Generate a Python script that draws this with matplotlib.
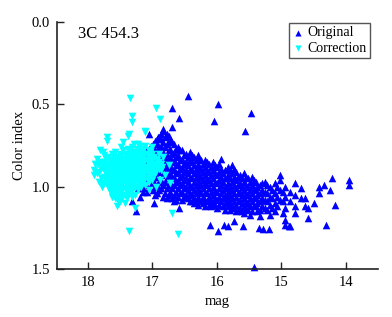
import matplotlib
matplotlib.use('Agg')
import matplotlib.pyplot as plt

# ---- Original (blue, up triangles): columns of magnitude with colour-index values
orig_col_mag = [17.22, 17.15, 17.08, 17.02, 16.96, 16.90, 16.84, 16.78, 16.72, 16.66,
                16.60, 16.54, 16.48, 16.42, 16.36, 16.30, 16.24, 16.18, 16.12, 16.06,
                16.00, 15.94, 15.88, 15.82, 15.76, 15.70, 15.64, 15.58, 15.52, 15.46,
                15.40, 15.33, 15.26, 15.18, 15.10, 15.02, 14.94, 14.86, 14.78, 14.70,
                14.64, 14.58, 14.50, 14.42, 14.34, 14.30, 14.25, 14.22, 14.16, 13.95]
orig_col_ci = [
    [0.86, 0.93, 0.99],
    [0.82, 0.88, 0.95, 1.01],
    [0.78, 0.84, 0.90, 0.96, 1.03],
    [0.75, 0.81, 0.87, 0.92, 0.98],
    [0.72, 0.78, 0.84, 0.89, 0.94, 1.00, 1.05],
    [0.70, 0.76, 0.81, 0.86, 0.91, 0.97, 1.02],
    [0.66, 0.73, 0.79, 0.84, 0.88, 0.93, 0.99, 1.06],
    [0.68, 0.74, 0.80, 0.85, 0.90, 0.95, 1.01, 1.07],
    [0.71, 0.77, 0.82, 0.87, 0.92, 0.97, 1.03],
    [0.74, 0.79, 0.84, 0.89, 0.94, 0.99, 1.05, 1.09],
    [0.76, 0.81, 0.86, 0.91, 0.96, 1.01, 1.06],
    [0.78, 0.83, 0.88, 0.93, 0.98, 1.03, 1.08],
    [0.80, 0.85, 0.90, 0.95, 1.00, 1.05],
    [0.79, 0.84, 0.89, 0.94, 0.99, 1.04, 1.09],
    [0.82, 0.87, 0.92, 0.97, 1.02, 1.07],
    [0.81, 0.86, 0.91, 0.96, 1.01, 1.06, 1.11],
    [0.84, 0.89, 0.94, 0.99, 1.04, 1.09],
    [0.84, 0.88, 0.93, 0.98, 1.03, 1.08, 1.12],
    [0.86, 0.91, 0.96, 1.01, 1.06, 1.11],
    [0.85, 0.90, 0.95, 1.00, 1.05, 1.10],
    [0.88, 0.93, 0.98, 1.03, 1.08, 1.13],
    [0.83, 0.89, 0.94, 0.99, 1.04, 1.09],
    [0.90, 0.95, 1.00, 1.05, 1.10, 1.14],
    [0.88, 0.93, 0.98, 1.03, 1.08, 1.12],
    [0.87, 0.92, 0.97, 1.02, 1.07, 1.12],
    [0.91, 0.96, 1.01, 1.06, 1.11, 1.15],
    [0.93, 0.98, 1.03, 1.08, 1.13],
    [0.92, 0.97, 1.02, 1.07, 1.12, 1.16],
    [0.95, 1.00, 1.05, 1.10, 1.14],
    [0.94, 0.99, 1.04, 1.09, 1.15],
    [0.97, 1.02, 1.07, 1.12],
    [0.99, 1.04, 1.09, 1.14, 1.18],
    [0.97, 1.03, 1.08, 1.13],
    [1.00, 1.06, 1.11, 1.17],
    [0.98, 1.04, 1.10, 1.15],
    [0.93, 0.96, 1.02, 1.08],
    [1.00, 1.06, 1.13, 1.20],
    [1.03, 1.09, 1.24],
    [0.98, 1.05, 1.12, 1.16],
    [1.01, 1.07],
    [1.07, 1.12],
    [1.13, 1.19],
    [1.10],
    [1.00, 1.04],
    [0.99],
    [1.23],
    [1.02],
    [0.95],
    [1.11],
    [0.96, 0.99],
]
# second, interleaved set of Original columns in the dense core
orig_col2_mag = [17.18, 17.12, 17.05, 16.99, 16.93, 16.87, 16.81, 16.75, 16.69, 16.63,
                 16.57, 16.51, 16.45, 16.39, 16.33, 16.27, 16.21, 16.15, 16.09, 16.03,
                 15.97, 15.91, 15.85, 15.79, 15.73, 15.67, 15.61, 15.55, 15.49, 15.43,
                 15.37, 15.30, 15.22, 15.14, 15.06, 14.98]
orig_col2_ci = [
    [0.85, 0.90, 0.97],
    [0.80, 0.86, 0.92, 0.99],
    [0.77, 0.82, 0.88, 0.94, 1.00],
    [0.74, 0.80, 0.86, 0.91, 0.96, 1.02],
    [0.71, 0.74, 0.79, 0.83, 0.88, 0.94, 0.99, 1.04],
    [0.68, 0.71, 0.75, 0.82, 0.86, 0.90, 0.96, 1.01],
    [0.70, 0.76, 0.82, 0.87, 0.92, 0.97, 1.04],
    [0.72, 0.78, 0.83, 0.88, 0.93, 0.99, 1.05],
    [0.73, 0.80, 0.85, 0.90, 0.95, 1.01, 1.07],
    [0.77, 0.82, 0.87, 0.92, 0.97, 1.03, 1.08],
    [0.78, 0.84, 0.89, 0.94, 0.99, 1.04],
    [0.81, 0.86, 0.91, 0.96, 1.01, 1.06],
    [0.82, 0.87, 0.92, 0.97, 1.02, 1.07],
    [0.81, 0.85, 0.90, 0.95, 1.00, 1.05, 1.09],
    [0.84, 0.89, 0.94, 0.99, 1.04, 1.09],
    [0.83, 0.88, 0.93, 0.98, 1.03, 1.08],
    [0.86, 0.91, 0.96, 1.01, 1.06, 1.10],
    [0.85, 0.90, 0.95, 0.99, 1.04, 1.09],
    [0.88, 0.93, 0.98, 1.03, 1.08, 1.12],
    [0.87, 0.92, 0.97, 1.02, 1.07, 1.11],
    [0.86, 0.91, 0.96, 1.01, 1.06, 1.11],
    [0.92, 0.97, 1.02, 1.07, 1.12],
    [0.90, 0.95, 1.01, 1.06, 1.10],
    [0.90, 0.95, 1.00, 1.05, 1.10, 1.14],
    [0.89, 0.94, 0.99, 1.04, 1.09, 1.13],
    [0.94, 0.99, 1.04, 1.09, 1.14],
    [0.95, 1.00, 1.05, 1.10, 1.15],
    [0.94, 0.99, 1.04, 1.09, 1.13],
    [0.97, 1.02, 1.07, 1.12, 1.17],
    [0.96, 1.01, 1.06, 1.11],
    [1.00, 1.05, 1.10, 1.15],
    [0.98, 1.02, 1.07, 1.12],
    [0.99, 1.04, 1.09, 1.14],
    [1.02, 1.07, 1.13],
    [1.00, 1.06, 1.12],
    [1.03, 1.09, 1.16],
]
# scattered Original points
orig_extra_mag = [16.44, 15.98, 15.47, 16.05, 15.56, 16.70, 16.58, 16.70, 16.83, 16.92,
                  17.06, 16.75, 17.25, 16.97, 16.59, 17.31, 17.14, 16.36, 16.11, 15.98,
                  15.89, 15.73, 15.59, 15.34, 15.19, 15.28, 15.83, 14.94, 14.88, 15.42,
                  17.23, 17.20]
orig_extra_ci = [0.45, 0.50, 0.55, 0.60, 0.66, 0.52, 0.58, 0.64, 0.65, 0.70,
                 0.68, 0.69, 1.15, 1.10, 1.13, 1.085, 1.03, 1.10, 1.23, 1.27,
                 1.23, 1.21, 1.24, 1.25, 1.26, 1.26, 1.24, 1.23, 1.24, 1.49,
                 1.01, 1.06]

# ---- Correction (cyan, down triangles)
corr_col_mag = [17.90, 17.86, 17.80, 17.77, 17.72, 17.70, 17.66, 17.60, 17.55, 17.50,
                17.45, 17.40, 17.36, 17.31, 17.34, 17.27, 17.22, 17.17, 17.12, 17.06,
                17.00, 16.95, 16.90, 16.875, 16.85, 16.70, 16.61]
corr_col_ci = [
    [0.90, 0.93],
    [0.83, 0.92],
    [0.85, 0.89, 0.95],
    [0.79, 0.87, 0.99],
    [0.83, 0.88, 0.92, 0.96],
    [0.70, 0.94],
    [0.84, 0.87, 0.91, 0.95, 0.99, 1.02],
    [0.82, 0.86, 0.89, 0.93, 0.97, 1.00, 1.04],
    [0.84, 0.88, 0.91, 0.95, 0.98, 1.02, 1.07, 1.12],
    [0.80, 0.85, 0.89, 0.92, 0.96, 0.99, 1.03, 1.06],
    [0.73, 0.78, 0.83, 0.87, 0.90, 0.94, 0.97, 1.01, 1.05],
    [0.81, 0.85, 0.88, 0.92, 0.95, 0.99, 1.03, 1.07],
    [0.68, 0.79, 0.83, 0.86, 0.90, 0.93, 0.97, 1.00, 1.04, 1.27],
    [0.57, 0.61, 0.76, 0.80, 0.84, 0.88, 0.91, 0.95, 0.98, 1.02, 1.06],
    [0.46],
    [0.82, 0.86, 0.89, 0.93, 0.96, 1.00, 1.13],
    [0.74, 0.79, 0.84, 0.87, 0.91, 0.94, 0.98, 1.02],
    [0.77, 0.81, 0.85, 0.89, 0.92, 0.96, 1.00],
    [0.66, 0.75, 0.80, 0.84, 0.88, 0.91, 0.95, 0.99],
    [0.78, 0.82, 0.86, 0.90, 0.93, 0.97],
    [0.80, 0.84, 0.88, 0.92, 0.96],
    [0.52, 0.83, 0.87, 0.91],
    [0.85, 0.89],
    [0.59],
    [0.88],
    [1.16],
    [1.29],
]
corr_col2_mag = [17.83, 17.75, 17.69, 17.63, 17.58, 17.53, 17.48, 17.43, 17.38, 17.33,
                 17.29, 17.24, 17.19, 17.14, 17.09, 17.03, 16.98, 16.93, 16.87]
corr_col2_ci = [
    [0.87, 0.91, 0.97],
    [0.81, 0.85, 0.90, 0.94, 0.98],
    [0.82, 0.86, 0.89, 0.93, 0.97, 1.00],
    [0.80, 0.84, 0.88, 0.91, 0.95, 0.98, 1.02, 1.06],
    [0.79, 0.83, 0.86, 0.90, 0.93, 0.97, 1.01, 1.04],
    [0.82, 0.87, 0.90, 0.94, 0.97, 1.01, 1.05, 1.09],
    [0.76, 0.81, 0.84, 0.88, 0.91, 0.95, 0.98, 1.02, 1.08],
    [0.80, 0.83, 0.86, 0.90, 0.93, 0.97, 1.01, 1.05],
    [0.77, 0.81, 0.84, 0.88, 0.91, 0.95, 0.98, 1.02],
    [0.78, 0.82, 0.86, 0.89, 0.93, 0.96, 1.00, 1.04],
    [0.74, 0.79, 0.84, 0.87, 0.91, 0.94, 0.98],
    [0.77, 0.81, 0.85, 0.89, 0.92, 0.96, 1.00],
    [0.75, 0.79, 0.83, 0.87, 0.90, 0.94, 0.98],
    [0.78, 0.82, 0.86, 0.89, 0.93, 0.97],
    [0.80, 0.84, 0.88, 0.91, 0.95],
    [0.79, 0.83, 0.87, 0.91, 0.94],
    [0.82, 0.86, 0.90, 0.93],
    [0.84, 0.88],
    [0.86, 0.90],
]
# scattered Correction points around the edge of the cloud
corr_extra_mag = [17.86, 17.81, 17.70, 17.38, 17.12, 17.00, 16.90, 16.83, 16.75, 16.72,
                  16.80, 16.88, 16.95, 17.05, 17.58, 17.52, 17.42, 17.31, 17.27, 17.64,
                  17.78, 17.89]
corr_extra_ci = [0.86, 0.78, 0.72, 0.69, 0.67, 0.76, 0.80, 0.82, 0.87, 0.98,
                 0.93, 0.96, 1.00, 1.02, 1.07, 1.10, 1.10, 1.02, 1.05, 1.04,
                 1.00, 0.86]

x_ticks = [18, 17, 16, 15, 14]
y_ticks = [0.0, 0.5, 1.0, 1.5]
y_tick_labels = ['0.0', '0.5', '1.0', '1.5']


def expand(col_mag, col_ci):
    xs, ys = [], []
    for m, cis in zip(col_mag, col_ci):
        for c in cis:
            xs.append(m)
            ys.append(c)
    return xs, ys


om1, oc1 = expand(orig_col_mag, orig_col_ci)
om2, oc2 = expand(orig_col2_mag, orig_col2_ci)
orig_mag = om1 + om2 + orig_extra_mag
orig_ci = oc1 + oc2 + orig_extra_ci
cm1, cc1 = expand(corr_col_mag, corr_col_ci)
cm2, cc2 = expand(corr_col2_mag, corr_col2_ci)
corr_mag = cm1 + cm2 + corr_extra_mag
corr_ci = cc1 + cc2 + corr_extra_ci

plt.rcParams['font.family'] = ['Liberation Serif', 'DejaVu Serif']

fig = plt.figure(figsize=(3.92, 3.17), dpi=100)
ax = fig.add_axes([57 / 392, 1 - 269 / 317, (378 - 57) / 392, (269 - 22) / 317])

ax.scatter(orig_mag, orig_ci, marker='^', s=30, c='#0000ff', linewidths=0,
           label='Original', clip_on=False, zorder=2)
ax.scatter(corr_mag, corr_ci, marker='v', s=30, c='#00ffff', linewidths=0,
           label='Correction', clip_on=False, zorder=3)

ax.set_xlim(18.48, 13.5)
ax.set_ylim(1.5, 0.0)
ax.set_xticks(x_ticks)
ax.set_xticklabels([str(t) for t in x_ticks])
ax.set_yticks(y_ticks)
ax.set_yticklabels(y_tick_labels)

for side in ['top', 'right']:
    ax.spines[side].set_visible(False)
for side in ['left', 'bottom']:
    ax.spines[side].set_color('#222222')
    ax.spines[side].set_linewidth(1.2)
ax.tick_params(direction='in', length=5, width=1, colors='#222222',
               labelsize=10.5, labelcolor='black', pad=5)

ax.set_xlabel('mag', fontsize=10.5, labelpad=4)
ax.set_ylabel('Color index', fontsize=10.5, labelpad=4)

ax.text(0.065, 0.951, '3C 454.3', transform=ax.transAxes, fontsize=12,
        va='center', ha='left')

leg = ax.legend(loc='upper right', bbox_to_anchor=(370 / 392, 1 - 23 / 317),
                bbox_transform=fig.transFigure, fancybox=False, framealpha=1,
                edgecolor='#555555', fontsize=10, handlelength=0.8,
                handletextpad=0.3, borderpad=0.25, labelspacing=0.15,
                borderaxespad=0, markerscale=0.8)
leg.get_frame().set_linewidth(1.0)

fig.savefig('out.png', dpi=100)
